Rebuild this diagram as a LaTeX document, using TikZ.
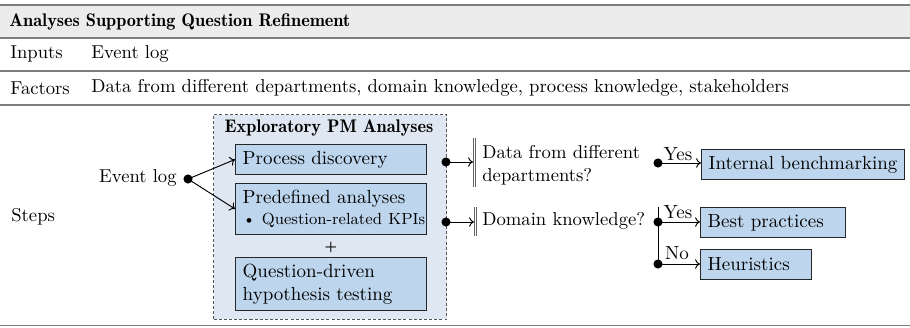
\documentclass[tikz,border=0pt]{standalone}
\usetikzlibrary{arrows.meta}
\definecolor{rulegray}{RGB}{125,125,125}
\definecolor{headfill}{RGB}{236,236,236}
\definecolor{contfill}{RGB}{222,231,242}
\definecolor{boxfill}{RGB}{190,214,237}
\definecolor{dashgray}{RGB}{85,85,85}
\begin{document}
\begin{tikzpicture}[x=0.526pt,y=-0.526pt,
  txt/.style={anchor=west, inner sep=0pt, font=\fontsize{9.8}{12}\selectfont},
  demi/.style={inner sep=0pt, font=\fontsize{9.6}{11.5}\fontseries{b}\selectfont},
  box/.style={draw=black!85, fill=boxfill, line width=0.5pt, anchor=north west,
    inner xsep=3.8pt, inner ysep=0pt, align=left, font=\fontsize{10}{12}\selectfont},
  dotnode/.style={circle, fill=black, inner sep=0pt, minimum size=4.8pt},
  conn/.style={-{To[length=2.6pt,width=5pt]}, line width=0.5pt},
  plainline/.style={line width=0.5pt},
  bar/.style={draw=rulegray!80!black, double=white, line width=0.45pt, double distance=0.55pt},
  tabrule/.style={draw=rulegray, line width=0.6pt},
  yn/.style={inner sep=0pt, font=\fontsize{10}{12}\selectfont}
]
\useasboundingbox (0,0) rectangle (910,327);
% table
\fill[headfill] (0,5) rectangle (910,38);
\draw[tabrule, line width=1pt] (0,5) -- (910,5);
\draw[tabrule] (0,38) -- (910,38);
\draw[tabrule] (0,71) -- (910,71);
\draw[tabrule] (0,105) -- (910,105);
\draw[tabrule, line width=0.9pt] (0,325.5) -- (910,325.5);
\node[demi, anchor=west] (title) at (9,21.5) {Analyses Supporting Question Refinement};
\node[txt] (inputs) at (10,54) {Inputs};
\node[txt] (inputsv) at (91,54) {Event log};
\node[txt] (factors) at (10,88) {Factors};
\node[txt] (factorsv) at (91,88) {Data from different departments, domain knowledge, process knowledge, stakeholders};
\node[txt] (steps) at (11,217) {Steps};
% container
\node[draw=dashgray, dashed, dash pattern=on 1.6pt off 1.1pt, line width=0.55pt, fill=contfill,
  anchor=north west, minimum width=122.6pt, minimum height=107.8pt, inner sep=0pt] (cont) at (213,114) {};
\node[demi] (conttitle) at (329,127.5) {Exploratory PM Analyses};
\node[box, text width=92.9pt, minimum height=15.8pt] (pd) at (235,144) {\mbox{Process discovery}};
\node[box, text width=92.9pt, minimum height=26.8pt] (pa) at (235,183) {\mbox{Predefined analyses}\\[-1pt]\mbox{\fontsize{8.5}{10}\selectfont\textbullet\ Question-related KPIs}};
\node[inner sep=0pt, font=\fontsize{8.5}{10}\fontseries{b}\selectfont] (plus) at (331,247) {+};
\node[box, text width=92.9pt, minimum height=27.9pt] (qd) at (235,257) {\mbox{Question-driven}\\\mbox{hypothesis testing}};
% event log input
\node[txt, anchor=east] (evlog) at (177,178) {Event log};
\node[dotnode] (d0) at (188,179) {};
\draw[conn] (d0.center) -- (pd.west);
\draw[conn] (d0.center) -- (pa.west);
% outputs
\node[dotnode] (r1) at (446,162) {};
\node[dotnode] (r2) at (446,222) {};
\coordinate (b1) at (473,162);
\coordinate (b2) at (474,222);
\draw[bar] (474.7,138) -- (474.7,187);
\draw[bar] (475.5,207) -- (475.5,236);
\draw[conn] (r1.center) -- (b1);
\draw[conn] (r2.center) -- (b2);
\node[txt, align=left] (q1) at (482,165) {Data from different\\departments?};
\node[txt] (q2) at (482,221) {Domain knowledge?};
% decision 1
\node[dotnode] (y1) at (658,163) {};
\node[box, text width=99.2pt, minimum height=15.8pt] (ib) at (701,149) {\mbox{Internal benchmarking}};
\draw[conn] (y1.center) -- (y1.center -| ib.west);
\node[yn] (yes1) at (678,154) {Yes};
% decision 2
\node[dotnode] (y2) at (658,222) {};
\node[dotnode] (n2) at (658,264) {};
\coordinate (vtop) at (658,207);
\draw[plainline] (vtop) -- (n2.center);
\node[box, text width=68.7pt, minimum height=15.8pt] (bp) at (700,207) {\mbox{Best practices}};
\node[box, text width=50.8pt, minimum height=15.8pt] (he) at (700,249) {\mbox{Heuristics}};
\draw[conn] (y2.center) -- (y2.center -| bp.west);
\draw[conn] (n2.center) -- (n2.center -| he.west);
\node[yn] (yes2) at (678,212) {Yes};
\node[yn] (no2) at (677,253.5) {No};
\end{tikzpicture}
\end{document}
